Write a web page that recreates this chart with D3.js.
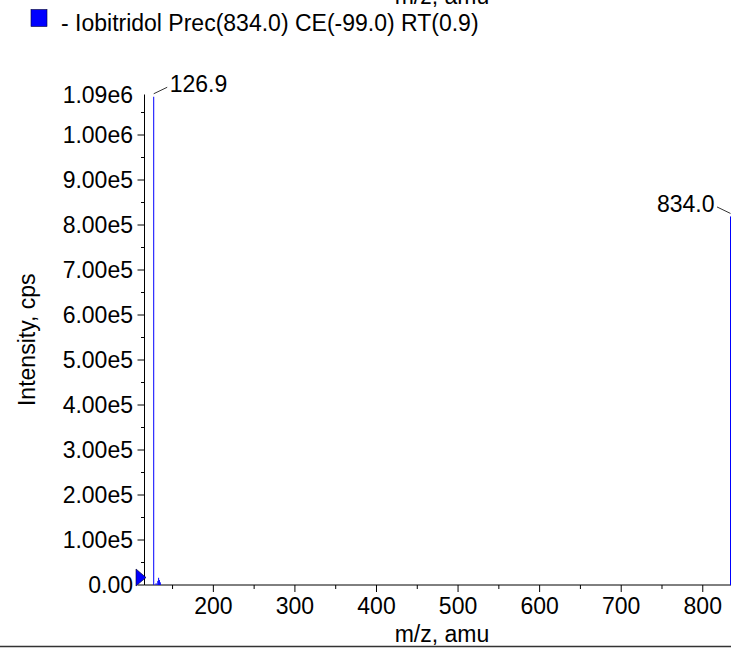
<!DOCTYPE html>
<html>
<head>
<meta charset="utf-8">
<script src="https://cdn.jsdelivr.net/npm/d3@7"></script>
<style>
  html, body { margin: 0; padding: 0; background: #fff; }
  svg { display: block; }
  text { font-family: "Liberation Sans", Arial, Helvetica, sans-serif; fill: #000; }
</style>
</head>
<body>
<svg id="chart" width="731" height="651"></svg>
<script>
// ---- data ----
const legendLabel = "- Iobitridol Prec(834.0) CE(-99.0) RT(0.9)";
const xTitle = "m/z, amu";
const yTitle = "Intensity, cps";
const peakMz = [126.9, 129.8, 131.9, 132.9, 133.9, 135.0, 834.0];
const peakIntensity = [1085000, 4000, 9000, 16000, 11000, 6000, 819000];
const labelledPeaks = ["126.9", "834.0"];
const xMajorTicks = [200, 300, 400, 500, 600, 700, 800];
const xMinorTicks = [150, 250, 350, 450, 550, 650, 750];
const yMajorTicks = [0, 100000, 200000, 300000, 400000, 500000, 600000, 700000, 800000, 900000, 1000000];
const yTickLabels = ["0.00", "1.00e5", "2.00e5", "3.00e5", "4.00e5", "5.00e5", "6.00e5", "7.00e5", "8.00e5", "9.00e5", "1.00e6"];
const yMinorTicks = [50000, 150000, 250000, 350000, 450000, 550000, 650000, 750000, 850000, 950000, 1050000];
const yTopValue = 1090000;
const yTopLabel = "1.09e6";
const xDomain = [115.6, 834.6];

// ---- layout ----
const svg = d3.select("#chart");
const mLeft = 144.5, mRight = 731, mTop = 94.5, mBottom = 585;
const fs = 23;

const x = d3.scaleLinear().domain(xDomain).range([mLeft, mRight]);
const y = d3.scaleLinear().domain([0, yTopValue]).range([mBottom, mTop]);

// top partially visible x title (from previous panel)
svg.append("text").attr("x", 442).attr("y", 4).attr("text-anchor", "middle")
  .attr("font-size", fs).text(xTitle);

// legend
svg.append("rect").attr("x", 31).attr("y", 9.5).attr("width", 16).attr("height", 17)
  .attr("fill", "#0000ff").attr("stroke", "#000033").attr("stroke-width", 0.6);
svg.append("text").attr("x", 61).attr("y", 31).attr("font-size", fs).text(legendLabel);

// y axis
const yAxis = svg.append("g");
yAxis.append("line").attr("x1", mLeft).attr("x2", mLeft).attr("y1", y(yTopValue)).attr("y2", mBottom)
  .attr("stroke", "#000").attr("stroke-width", 1);
yAxis.selectAll(".ymaj").data(yMajorTicks).join("line")
  .attr("x1", mLeft - 7).attr("x2", mLeft).attr("y1", d => y(d)).attr("y2", d => y(d))
  .attr("stroke", "#000");
yAxis.selectAll(".ymin").data(yMinorTicks).join("line")
  .attr("x1", mLeft - 3.5).attr("x2", mLeft).attr("y1", d => y(d)).attr("y2", d => y(d))
  .attr("stroke", "#000");
yAxis.selectAll(".ylab").data(yMajorTicks).join("text")
  .attr("x", mLeft - 11.5).attr("y", d => y(d)).attr("dy", "0.36em")
  .attr("text-anchor", "end").attr("font-size", fs)
  .text((d, i) => yTickLabels[i]);
yAxis.append("text").attr("x", mLeft - 11.5).attr("y", y(yTopValue)).attr("dy", "0.36em")
  .attr("text-anchor", "end").attr("font-size", fs).text(yTopLabel);

// y title
svg.append("text").attr("transform", `translate(35,${(mTop + mBottom) / 2}) rotate(-90)`)
  .attr("text-anchor", "middle").attr("font-size", fs).text(yTitle);

// x axis
const xAxis = svg.append("g");
xAxis.append("line").attr("x1", mLeft).attr("x2", mRight).attr("y1", mBottom).attr("y2", mBottom)
  .attr("stroke", "#000");
xAxis.selectAll(".xmaj").data(xMajorTicks).join("line")
  .attr("x1", d => x(d)).attr("x2", d => x(d)).attr("y1", mBottom).attr("y2", mBottom + 7)
  .attr("stroke", "#000");
xAxis.selectAll(".xmin").data(xMinorTicks).join("line")
  .attr("x1", d => x(d)).attr("x2", d => x(d)).attr("y1", mBottom).attr("y2", mBottom + 4)
  .attr("stroke", "#000");
xAxis.selectAll(".xlab").data(xMajorTicks).join("text")
  .attr("x", d => x(d)).attr("y", mBottom + 29).attr("text-anchor", "middle")
  .attr("font-size", fs).text(d => d);
svg.append("text").attr("x", 442).attr("y", 641.5).attr("text-anchor", "middle")
  .attr("font-size", fs).text(xTitle);

// bottom separator line
svg.append("line").attr("x1", 0).attr("x2", 731).attr("y1", 646.5).attr("y2", 646.5)
  .attr("stroke", "#333").attr("stroke-width", 1.6);

// peaks
svg.selectAll(".peak").data(peakMz).join("line")
  .attr("x1", d => x(d)).attr("x2", d => x(d))
  .attr("y1", mBottom).attr("y2", (d, i) => y(peakIntensity[i]))
  .attr("stroke", "#0000ff").attr("stroke-width", 1);

// zero marker triangle
const t0x = mLeft + 1.5, t0y = y(0) - 7.5;
svg.append("path")
  .attr("d", `M${t0x - 10},${t0y - 8.5}L${t0x},${t0y}L${t0x - 10},${t0y + 8.5}Z`)
  .attr("fill", "#0000ff").attr("stroke", "#000022").attr("stroke-width", 0.6);

// peak labels
labelledPeaks.forEach(lbl => {
  const mz = +lbl;
  const i = peakMz.indexOf(mz);
  const px = x(mz), py = y(peakIntensity[i]);
  const onRight = px < (mLeft + mRight) / 2;
  const dir = onRight ? 1 : -1;
  svg.append("line").attr("x1", px).attr("y1", py - 3)
    .attr("x2", px + dir * 13.5).attr("y2", py - 9.5)
    .attr("stroke", "#000").attr("stroke-width", 0.8);
  svg.append("text").attr("x", px + dir * 16).attr("y", py - 4.5)
    .attr("text-anchor", onRight ? "start" : "end")
    .attr("font-size", fs).text(lbl);
});
</script>
</body>
</html>
